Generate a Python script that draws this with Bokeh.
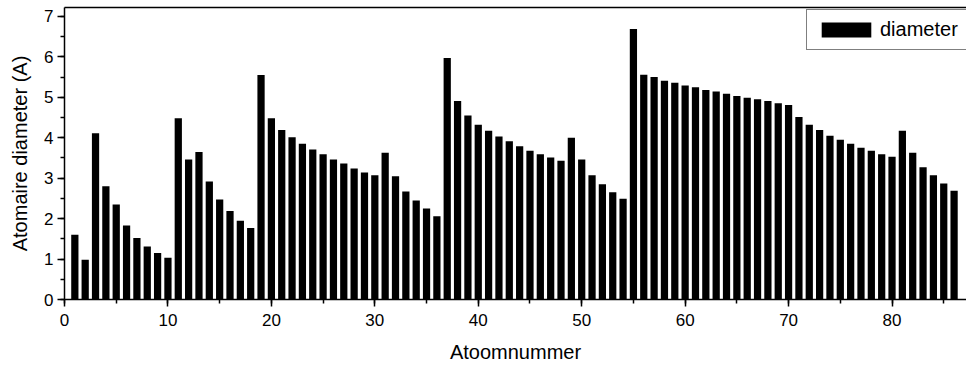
from bokeh.plotting import figure
from bokeh.models import (ColumnDataSource, SingleIntervalTicker, LinearAxis,
                          Range1d, Legend, LegendItem, FixedTicker)
from bokeh.embed import file_html
from bokeh.resources import INLINE

atomic_number = list(range(1, 87))
diameter = [
    1.60, 0.98, 4.11, 2.80, 2.35, 1.83, 1.52, 1.31, 1.15, 1.03,
    4.48, 3.46, 3.65, 2.92, 2.47, 2.19, 1.95, 1.77, 5.55, 4.48,
    4.19, 4.01, 3.85, 3.71, 3.59, 3.46, 3.36, 3.24, 3.14, 3.07,
    3.63, 3.05, 2.67, 2.45, 2.25, 2.06, 5.97, 4.91, 4.55, 4.32,
    4.17, 4.03, 3.91, 3.79, 3.68, 3.59, 3.51, 3.43, 4.00, 3.46,
    3.07, 2.85, 2.65, 2.49, 6.69, 5.56, 5.50, 5.41, 5.36, 5.29,
    5.25, 5.18, 5.14, 5.09, 5.03, 4.99, 4.95, 4.91, 4.85, 4.81,
    4.51, 4.32, 4.19, 4.05, 3.95, 3.85, 3.75, 3.68, 3.59, 3.53,
    4.17, 3.63, 3.27, 3.07, 2.87, 2.69,
]
series_name = "diameter"
x_title = "Atoomnummer"
y_title = "Atomaire diameter (A)"

FONT = "Liberation Sans"

src = ColumnDataSource(dict(x=atomic_number, top=diameter))

p = figure(width=966, height=365, output_backend="svg", toolbar_location=None,
           x_range=Range1d(0, 87.2), y_range=Range1d(0, 7.22),
           min_border_left=64, min_border_right=0, min_border_top=7,
           min_border_bottom=64, background_fill_color="white",
           border_fill_color="white")
p.outline_line_color = None
p.xgrid.visible = False
p.ygrid.visible = False

r = p.vbar(x="x", top="top", bottom=0, width=0.7, source=src,
           fill_color="black", line_color=None)

for ax in (p.xaxis[0], p.yaxis[0]):
    ax.axis_line_color = "black"
    ax.axis_line_width = 1.5
    ax.major_tick_line_color = "black"
    ax.minor_tick_line_color = "black"
    ax.major_tick_line_width = 1.5
    ax.minor_tick_line_width = 1.5
    ax.major_tick_in = 0
    ax.major_tick_out = 7
    ax.minor_tick_in = 0
    ax.minor_tick_out = 4
    ax.major_label_text_font = FONT
    ax.major_label_text_font_size = "17px"
    ax.major_label_text_color = "black"
    ax.axis_label_text_font = FONT
    ax.axis_label_text_font_size = "20px"
    ax.axis_label_text_font_style = "normal"
    ax.axis_label_text_color = "black"

p.xaxis[0].ticker = SingleIntervalTicker(interval=10, num_minor_ticks=2)
p.yaxis[0].ticker = SingleIntervalTicker(interval=1, num_minor_ticks=2)
p.xaxis[0].axis_label = x_title
p.yaxis[0].axis_label = y_title
p.xaxis[0].major_label_standoff = 7
p.xaxis[0].axis_label_standoff = 12
p.yaxis[0].major_label_standoff = 4
p.yaxis[0].axis_label_standoff = 10

top_axis = LinearAxis(ticker=FixedTicker(ticks=[]), axis_line_color="black",
                      axis_line_width=1.5, major_tick_out=0, major_tick_in=0,
                      minor_tick_out=0, minor_tick_in=0, major_label_standoff=0)
p.add_layout(top_axis, "above")

legend = Legend(items=[LegendItem(label=series_name, renderers=[r])],
                location=(742, 249), orientation="vertical",
                border_line_color="black", border_line_width=1.5,
                background_fill_color="white", background_fill_alpha=1,
                padding=8, margin=0, glyph_width=62, glyph_height=19,
                label_standoff=3, label_text_font=FONT,
                label_text_color="black", label_text_font_size="20px",
                label_height=19, label_width=100)
p.add_layout(legend)

open("out.html", "w").write(file_html(p, INLINE))
